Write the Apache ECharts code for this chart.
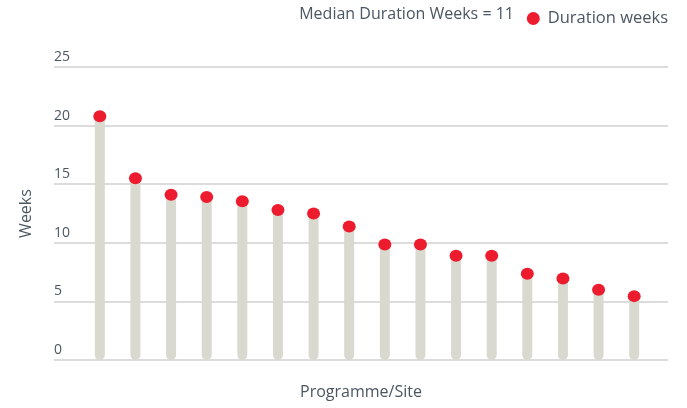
<!DOCTYPE html>
<html>
<head>
<meta charset="utf-8">
<script src="https://cdn.jsdelivr.net/npm/echarts@6/dist/echarts.min.js"></script>
<style>
  html, body { margin: 0; padding: 0; background: #fff; }
  #chart { width: 687px; height: 408px; }
</style>
</head>
<body>
<div id="chart"></div>
<script>
// data
const sites = ['P1', 'P2', 'P3', 'P4', 'P5', 'P6', 'P7', 'P8', 'P9', 'P10', 'P11', 'P12', 'P13', 'P14', 'P15', 'P16']
const durationWeeks = [20.8, 15.5, 14.1, 13.9, 13.55, 12.8, 12.5, 11.4, 9.85, 9.85, 8.9, 8.9, 7.35, 6.95, 6.0, 5.45]
const yTicks = [0, 5, 10, 15, 20, 25]
const medianWeeks = 11

const textColor = '#4b5661'
const fontFamily = '"Open Sans", sans-serif'

const chart = echarts.init(document.getElementById('chart'))

chart.setOption({
  animation: false,
  textStyle: { fontFamily: fontFamily },
  graphic: [{
    type: 'text',
    right: 173,
    top: 6,
    style: { text: 'Median Duration Weeks = ' + medianWeeks, fill: textColor, font: '16px ' + fontFamily }
  }],
  legend: {
    data: ['Duration weeks'],
    right: 14,
    top: 5,
    icon: 'circle',
    itemWidth: 13,
    itemHeight: 13,
    textStyle: { color: textColor, fontSize: 16.5, fontFamily: fontFamily, padding: [0, 0, 0, 3] }
  },
  grid: [
    // full width grid: gridlines, y labels, axis names
    { left: 54, right: 19, top: 67, bottom: 48 },
    // narrower grid for the bars and dots
    { left: 82, right: 35, top: 67, bottom: 48 }
  ],
  xAxis: [{
    gridIndex: 0,
    type: 'category',
    data: sites,
    name: 'Programme/Site',
    nameLocation: 'middle',
    nameGap: 24,
    nameTextStyle: { color: textColor, fontSize: 16 },
    axisLine: { show: false },
    axisTick: { show: false },
    axisLabel: { show: false }
  }, {
    gridIndex: 1,
    type: 'category',
    data: sites,
    show: false
  }],
  yAxis: [{
    gridIndex: 0,
    type: 'value',
    min: yTicks[0],
    max: yTicks[yTicks.length - 1],
    interval: 5,
    name: 'Weeks',
    nameLocation: 'middle',
    nameGap: 20,
    nameTextStyle: { color: textColor, fontSize: 16 },
    axisLine: { show: false },
    axisTick: { show: false },
    axisLabel: {
      inside: true,
      margin: 0,
      color: textColor,
      fontSize: 14,
      verticalAlign: 'bottom',
      padding: [0, 0, 3, 0]
    },
    splitLine: { lineStyle: { color: '#d0d0d0', width: 1.5 } }
  }, {
    gridIndex: 1,
    type: 'value',
    min: yTicks[0],
    max: yTicks[yTicks.length - 1],
    show: false,
    splitLine: { show: false }
  }],
  series: [{
    name: 'stems',
    type: 'bar',
    xAxisIndex: 1,
    yAxisIndex: 1,
    barWidth: 10,
    itemStyle: { color: '#d9d9d0', borderRadius: 5 },
    data: durationWeeks
  }, {
    name: 'Duration weeks',
    type: 'scatter',
    xAxisIndex: 1,
    yAxisIndex: 1,
    symbol: 'circle',
    symbolSize: [13, 12],
    itemStyle: { color: '#ec1c2e', opacity: 1 },
    z: 3,
    data: durationWeeks
  }]
})
</script>
</body>
</html>
